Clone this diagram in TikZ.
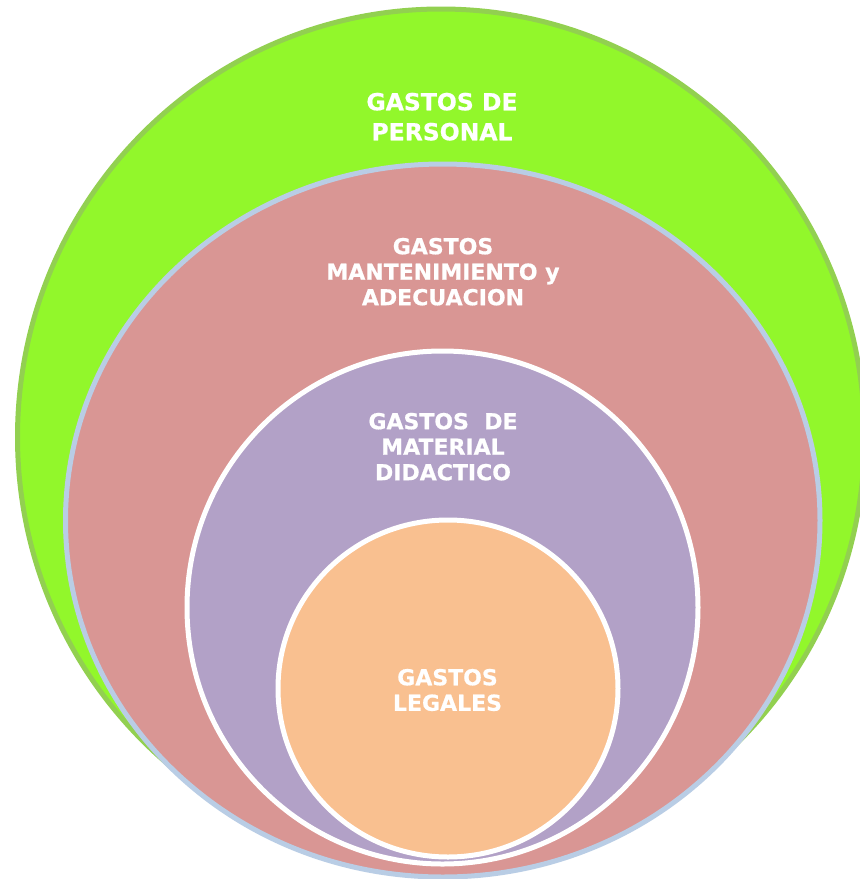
\documentclass[tikz,border=0pt]{standalone}
\usepackage{fontspec}
\newfontfamily\labelfont[FakeBold=0.7]{DejaVu Sans Bold}
\definecolor{limefill}{RGB}{146,247,43}
\definecolor{limeline}{RGB}{146,208,80}
\definecolor{rosefill}{RGB}{217,150,148}
\definecolor{blueline}{RGB}{185,205,229}
\definecolor{lilacfill}{RGB}{178,161,199}
\definecolor{peachfill}{RGB}{249,192,144}
\tikzset{
  ringlabel/.style={text=white, align=center, inner sep=0pt,
    font=\labelfont\fontsize{22}{25.5}\selectfont},
  toplabel/.style={ringlabel, font=\labelfont\fontsize{23.5}{30}\selectfont},
}
\begin{document}
\begin{tikzpicture}[x=1pt,y=-1pt]
\useasboundingbox (0,0) rectangle (860,879);
\clip (0,0) rectangle (860,879);
\fill[white] (0,0) rectangle (860,879);
% outer green
\draw[fill=limefill, draw=limeline, line width=5pt] (441,437) ellipse [x radius=423.5, y radius=428];
% pink
\draw[fill=rosefill, draw=blueline, line width=5pt] (442.75,520.5) ellipse [x radius=377.25, y radius=356.5];
% purple
\draw[fill=lilacfill, draw=white, line width=5pt] (442.5,607.5) ellipse [x radius=255.5, y radius=256.5];
% orange
\draw[fill=peachfill, draw=white, line width=5pt] (448,688.5) ellipse [x radius=170, y radius=168.5];
% labels
\node[toplabel] (personal) at (442,116.7) {GASTOS DE\\PERSONAL};
\node[ringlabel] (mant) at (443,271.7) {GASTOS\\MANTENIMIENTO y\\ADECUACION};
\node[ringlabel] (material) at (443,446.7) {GASTOS\ \ DE\\MATERIAL\\DIDACTICO};
\node[ringlabel] (legales) at (447.5,690) {GASTOS\\LEGALES};
\end{tikzpicture}
\end{document}
